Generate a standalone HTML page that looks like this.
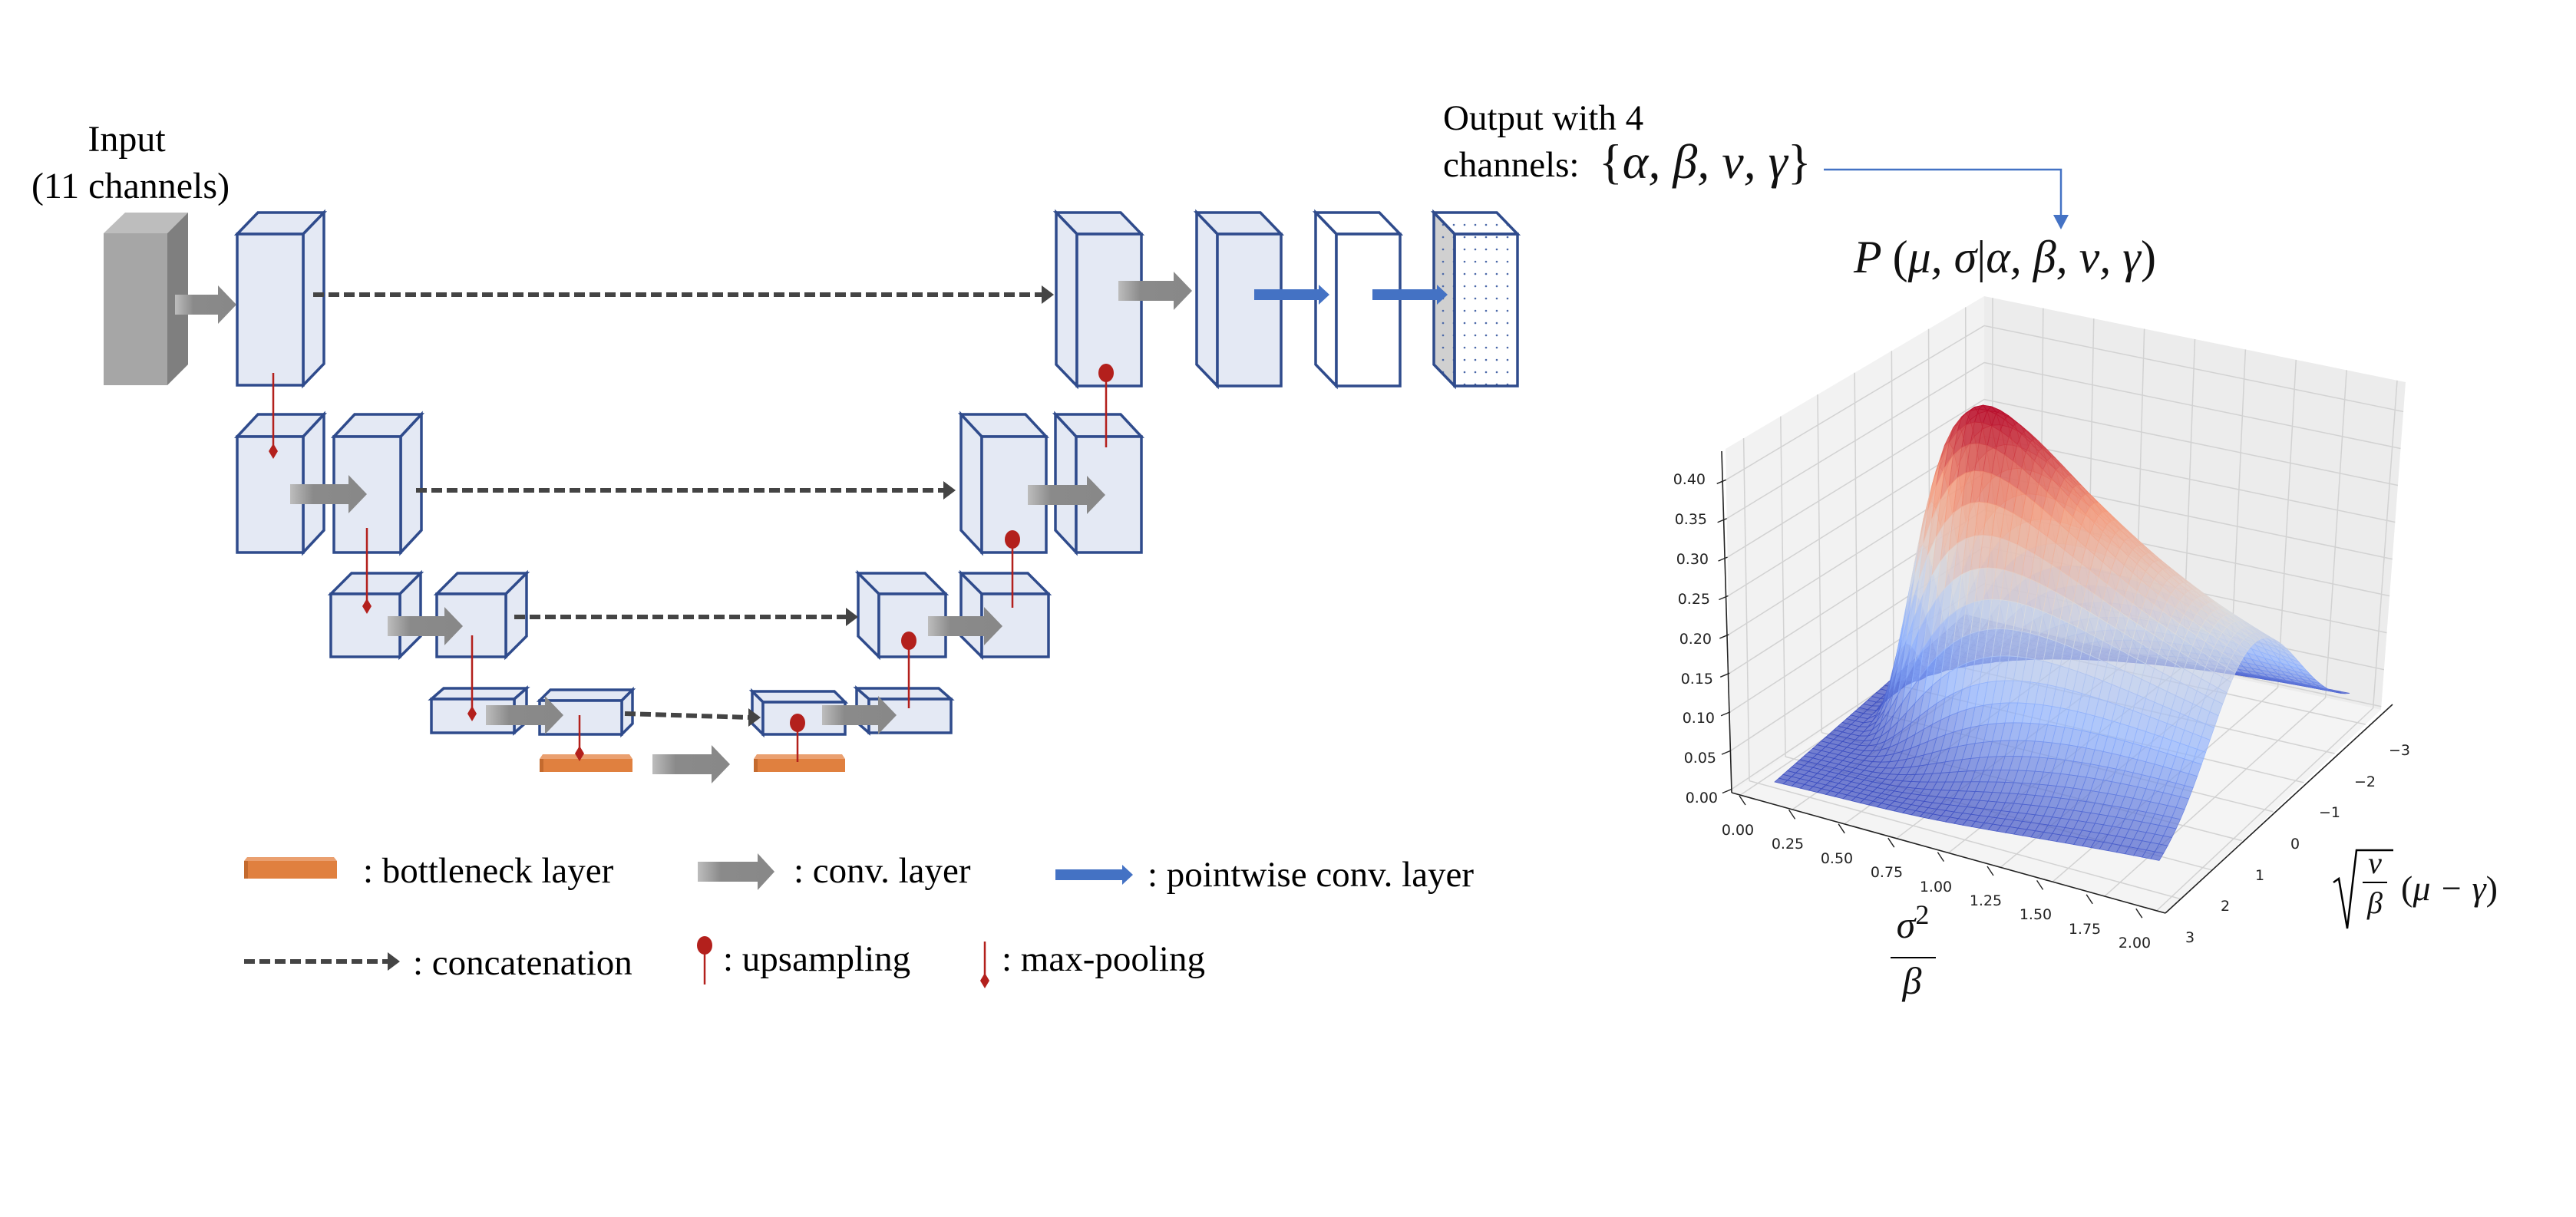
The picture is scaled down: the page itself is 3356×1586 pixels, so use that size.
<!DOCTYPE html>
<html><head><meta charset="utf-8"><style>
html,body{margin:0;padding:0;background:#fff;}
svg{display:block;}
.t{font-family:"Liberation Serif",serif;fill:#000;}
.m{font-family:"Liberation Serif",serif;font-style:italic;fill:#111;}
.tk{font-family:"DejaVu Sans","Liberation Sans",sans-serif;font-size:19px;fill:#222;}
</style></head><body>
<svg id="root" width="3356" height="1586" viewBox="0 0 3356 1586" xmlns="http://www.w3.org/2000/svg">
<defs>
<linearGradient id="ga" x1="0" x2="1" y1="0" y2="0"><stop offset="0" stop-color="#bdbdbd"/><stop offset="0.3" stop-color="#8a8a8a"/><stop offset="1" stop-color="#888"/></linearGradient>
<pattern id="dots" width="14" height="16" patternUnits="userSpaceOnUse"><circle cx="4" cy="5" r="1.3" fill="#4a67a8"/></pattern>
<pattern id="dots2" width="14" height="16" patternUnits="userSpaceOnUse"><rect width="14" height="16" fill="#d0d0d0"/><circle cx="4" cy="5" r="1.3" fill="#4a67a8"/></pattern>
</defs>
<rect width="3356" height="1586" fill="#fff"/>

<!-- Input -->
<text class="t" x="165" y="197" font-size="48" text-anchor="middle">Input</text>
<text class="t" x="170" y="258" font-size="48" text-anchor="middle">(11 channels)</text>
<polygon points="135,304 163,277 245,277 218,304" fill="#bdbdbd"/>
<polygon points="218,304 245,277 245,475 218,502" fill="#7f7f7f"/>
<rect x="135" y="304" width="83" height="198" fill="#a6a6a6"/>

<g id="boxes" stroke="#2f4b8c" stroke-width="3.5" stroke-linejoin="miter" fill="#e4e9f4"></g>
<g id="arrows"></g>

<!-- Output text -->
<text class="t" x="1880" y="169" font-size="47">Output with 4</text>
<text class="t" x="1880" y="230" font-size="47">channels:</text>
<text class="m" x="2083" y="232" font-size="64"><tspan font-style="normal">{</tspan>α, β, ν, γ<tspan font-style="normal">}</tspan></text>
<polyline points="2376,221 2685,221 2685,282" fill="none" stroke="#4472c4" stroke-width="2.5"/>
<polygon points="2675,280 2695,280 2685,299" fill="#4472c4"/>
<text class="m" x="2415" y="355" font-size="60">P <tspan font-style="normal">(</tspan>μ, σ<tspan font-style="normal">|</tspan>α, β, ν, γ<tspan font-style="normal">)</tspan></text>

<!-- Plot -->
<g id="walls"></g>
<g id="surf"></g>
<g id="axes" stroke="#222" stroke-width="1.5" fill="none"></g>
<g id="labels">
<text class="tk" x="2222" y="631" text-anchor="end">0.40</text>
<text class="tk" x="2224" y="683" text-anchor="end">0.35</text>
<text class="tk" x="2226" y="735" text-anchor="end">0.30</text>
<text class="tk" x="2228" y="787" text-anchor="end">0.25</text>
<text class="tk" x="2230" y="839" text-anchor="end">0.20</text>
<text class="tk" x="2232" y="891" text-anchor="end">0.15</text>
<text class="tk" x="2234" y="942" text-anchor="end">0.10</text>
<text class="tk" x="2236" y="994" text-anchor="end">0.05</text>
<text class="tk" x="2238" y="1046" text-anchor="end">0.00</text>
<text class="tk" x="2264" y="1088" text-anchor="middle">0.00</text>
<text class="tk" x="2329" y="1106" text-anchor="middle">0.25</text>
<text class="tk" x="2393" y="1125" text-anchor="middle">0.50</text>
<text class="tk" x="2458" y="1143" text-anchor="middle">0.75</text>
<text class="tk" x="2522" y="1162" text-anchor="middle">1.00</text>
<text class="tk" x="2587" y="1180" text-anchor="middle">1.25</text>
<text class="tk" x="2652" y="1198" text-anchor="middle">1.50</text>
<text class="tk" x="2716" y="1217" text-anchor="middle">1.75</text>
<text class="tk" x="2781" y="1235" text-anchor="middle">2.00</text>
<text class="tk" x="3126" y="984" text-anchor="middle">−3</text>
<text class="tk" x="3081" y="1025" text-anchor="middle">−2</text>
<text class="tk" x="3035" y="1065" text-anchor="middle">−1</text>
<text class="tk" x="2990" y="1106" text-anchor="middle">0</text>
<text class="tk" x="2944" y="1147" text-anchor="middle">1</text>
<text class="tk" x="2899" y="1187" text-anchor="middle">2</text>
<text class="tk" x="2853" y="1228" text-anchor="middle">3</text>
</g>
<text class="m" x="2492" y="1222" font-size="50" text-anchor="middle">σ<tspan font-style="normal" font-size="36" dy="-18">2</tspan></text>
<line x1="2463" y1="1248" x2="2522" y2="1248" stroke="#000" stroke-width="2"/>
<text class="m" x="2491" y="1295" font-size="50" text-anchor="middle">β</text>
<polyline points="3040,1150 3047,1145 3058,1210 3070,1108 3118,1108" fill="none" stroke="#000" stroke-width="2.5"/>
<text class="m" x="3094" y="1138" font-size="40" text-anchor="middle">ν</text>
<line x1="3078" y1="1150" x2="3110" y2="1150" stroke="#000" stroke-width="2"/>
<text class="m" x="3094" y="1190" font-size="40" text-anchor="middle">β</text>
<text class="m" x="3128" y="1173" font-size="46"><tspan font-style="normal">(</tspan>μ − γ<tspan font-style="normal">)</tspan></text>

<!-- Legend -->
<polygon points="318,1122 322,1117 435,1117 439,1122" fill="#eaa070"/>
<rect x="318" y="1122" width="121" height="23" fill="#e0803f"/>
<rect x="318" y="1122" width="5" height="23" fill="#c46a2e"/>
<text class="t" x="473" y="1150" font-size="47">: bottleneck layer</text>
<text class="t" x="1034" y="1150" font-size="47">: conv. layer</text>
<text class="t" x="1495" y="1155" font-size="47">: pointwise conv. layer</text>
<text class="t" x="538" y="1270" font-size="47">: concatenation</text>
<text class="t" x="942" y="1265" font-size="47">: upsampling</text>
<text class="t" x="1305" y="1265" font-size="47">: max-pooling</text>
</svg>
<script>
var NS='http://www.w3.org/2000/svg';
function el(p,tag,a){var e=document.createElementNS(NS,tag);for(var k in a)e.setAttribute(k,a[k]);p.appendChild(e);return e;}
var B=document.getElementById('boxes'),A=document.getElementById('arrows');
function box(x1,x2,y1,y2,dx,dy,dir,fill,side){
  fill=fill||'#e4e9f4';
  if(dir>0){
    el(B,'polygon',{points:[x1,y1,x1+dx,y1-dy,x2+dx,y1-dy,x2,y1].join(','),fill:fill});
    el(B,'polygon',{points:[x2,y1,x2+dx,y1-dy,x2+dx,y2-dy,x2,y2].join(','),fill:side||fill});
  } else {
    el(B,'polygon',{points:[x1,y1,x1-dx,y1-dy,x2-dx,y1-dy,x2,y1].join(','),fill:fill});
    el(B,'polygon',{points:[x1,y1,x1-dx,y1-dy,x1-dx,y2-dy,x1,y2].join(','),fill:side||fill});
  }
  el(B,'rect',{x:x1,y:y1,width:x2-x1,height:y2-y1,fill:fill});
}
box(309,395,305,502,27,28,1);
box(1403,1487,305,503,27,28,-1);
box(1586,1669,305,503,27,28,-1);
box(1741,1824,305,503,27,28,-1,'#ffffff');
box(1895,1977,305,503,27,28,-1,'url(#dots)','url(#dots2)');
box(309,395,569,720,27,29,1);box(435,522,569,720,27,29,1);
box(1279,1363,569,720,27,29,-1);box(1402,1487,569,720,27,29,-1);
box(431,521,774,856,27,27,1);box(569,659,774,856,27,27,1);
box(1145,1232,774,856,27,27,-1);box(1279,1366,774,856,27,27,-1);
box(562,670,911,955,16,14,1);box(703,810,913,957,14,14,1);
box(994,1101,915,957,14,14,-1);box(1132,1239,911,955,16,14,-1);
function bott(x1,x2,y1,y2){el(A,'polygon',{points:[x1,y1,x1+4,y1-6,x2-4,y1-6,x2,y1].join(','),fill:'#eaa070'});el(A,'rect',{x:x1,y:y1,width:x2-x1,height:y2-y1,fill:'#e0803f'});el(A,'rect',{x:x1,y:y1,width:5,height:y2-y1,fill:'#c46a2e'});}
bott(703,824,989,1006);bott(982,1101,989,1006);
function garrow(x1,x2,cy,sh,hh,hl){
  el(A,'polygon',{points:[x1,cy-sh/2,x2-hl,cy-sh/2,x2-hl,cy-hh/2,x2,cy,x2-hl,cy+hh/2,x2-hl,cy+sh/2,x1,cy+sh/2].join(','),fill:'url(#ga)'});
}
garrow(228,308,397,26,50,24);
garrow(1457,1553,379,26,50,24);
garrow(378,478,644,26,50,24);
garrow(1339,1440,645,26,50,24);
garrow(505,603,816,26,50,24);
garrow(1209,1306,816,26,50,24);
garrow(633,734,932,26,50,24);
garrow(1071,1168,932,26,50,24);
garrow(850,951,996,26,50,24);
garrow(909,1009,1136,26,48,22);
function barrow(x1,x2,cy){el(A,'polygon',{points:[x1,cy-7,x2-14,cy-7,x2-14,cy-13,x2,cy,x2-14,cy+13,x2-14,cy+7,x1,cy+7].join(','),fill:'#4472c4'});}
barrow(1634,1732,384);barrow(1788,1886,384);barrow(1375,1476,1140);
function dash(x1,y1,x2,y2){el(A,'line',{x1:x1,y1:y1,x2:x2-14,y2:y2,stroke:'#444','stroke-width':6,'stroke-dasharray':'14 6'});
  el(A,'polygon',{points:[x2-16,y2-12,x2,y2,x2-16,y2+12].join(','),fill:'#444'});}
dash(408,384,1373,384);dash(542,639,1245,639);dash(670,804,1118,804);dash(814,930,991,935);dash(318,1253,521,1253);
var R='#b3201c';
function pool(x,y1,y2){el(A,'line',{x1:x,y1:y1,x2:x,y2:y2,stroke:R,'stroke-width':2.5});el(A,'polygon',{points:[x,y2-10,x+6,y2,x,y2+10,x-6,y2].join(','),fill:R});}
function up(x,y1,y2){el(A,'line',{x1:x,y1:y1,x2:x,y2:y2,stroke:R,'stroke-width':2.5});el(A,'ellipse',{cx:x,cy:y1,rx:10,ry:12,fill:R});}
pool(356,486,588);pool(478,688,790);pool(615,828,930);pool(755,932,982);pool(1283,1227,1278);
up(1441,486,583);up(1319,703,792);up(1184,835,923);up(1039,942,993);up(918,1232,1283);

var W=document.getElementById('walls');
var PA=[2248,585],PB=[2256,1033],PC=[2585,813],PD=[2585,386],PE=[3134,498],PF=[3102,925],PG=[2821,1190];
function lp(a,b,t){return [a[0]+(b[0]-a[0])*t,a[1]+(b[1]-a[1])*t];}
function poly(p,pts,f){el(p,'polygon',{points:pts.map(function(q){return q.join(',')}).join(' '),fill:f});}
poly(W,[PA,PB,PC,PD],'#f2f2f2');poly(W,[PD,PE,PF,PC],'#ececec');poly(W,[PB,PC,PF,PG],'#f4f4f4');
function ln(p,a,b,c,w){el(p,'line',{x1:a[0],y1:a[1],x2:b[0],y2:b[1],stroke:c||'#d2d2d2','stroke-width':w||1.5});}
var i,s,f;
for(i=0;i<7;i++){s=0.07+i*0.143;ln(W,lp(PA,PD,s),lp(PB,PC,s));ln(W,lp(PB,PC,s),lp(PG,PF,s));}
for(i=0;i<9;i++){s=0.02+i*0.12;ln(W,lp(PD,PE,s),lp(PC,PF,s));ln(W,lp(PC,PF,s),lp(PB,PG,s));}
for(i=0;i<9;i++){f=0.01+i*0.1125;var l1=lp(PB,PA,f),l2=lp(PC,PD,f),l3=lp(PF,PE,f);ln(W,l1,l2);ln(W,l2,l3);}
var AX=document.getElementById('axes');
ln(AX,[2243,588],[2256,1033],'#222',1.6);ln(AX,[2256,1033],PG,'#222',1.6);ln(AX,PG,[3117,918],'#222',1.6);
for(i=0;i<9;i++){f=0.01+i*0.1125;var q=lp(PB,PA,f);ln(AX,q,[q[0]-12,q[1]+5],'#222',1.4);}
for(i=0;i<9;i++){var q2=[2270+i*64.6,1045+i*18.4];ln(AX,[q2[0]-4,q2[1]-8],[q2[0]+4,q2[1]+4],'#222',1.4);}
var S=document.getElementById('surf');
function hf(x,y){return Math.pow(x,-1.6)*Math.exp(-(1+y*y/2)/x);}
function P(u,v,z){return [2312+u*501+v*248,1019+u*123-v*218-z*975];}
var cm=[[0,59,76,192],[0.25,141,176,254],[0.5,221,221,221],[0.75,244,154,123],[1,180,4,38]];
function col(t){t=Math.max(0,Math.min(1,t));for(var k=0;k<4;k++){if(t<=cm[k+1][0]){var a=cm[k],b=cm[k+1],r=(t-a[0])/(b[0]-a[0]);return 'rgb('+Math.round(a[1]+(b[1]-a[1])*r)+','+Math.round(a[2]+(b[2]-a[2])*r)+','+Math.round(a[3]+(b[3]-a[3])*r)+')';}}}
var N=45,M=45,cells=[],Z=[];
for(i=0;i<=N;i++){Z[i]=[];for(var j=0;j<=M;j++){var u=i/N,v=j/M;Z[i][j]=hf(0.02+u*1.98,3-6*v);}}
for(i=0;i<N;i++)for(var j=0;j<M;j++)cells.push([i,j]);
cells.sort(function(a,b){return (a[0]/N-a[1]/M)-(b[0]/N-b[1]/M);});
cells.forEach(function(c){var i=c[0],j=c[1];
 var p1=P(i/N,j/M,Z[i][j]),p2=P((i+1)/N,j/M,Z[i+1][j]),p3=P((i+1)/N,(j+1)/M,Z[i+1][j+1]),p4=P(i/N,(j+1)/M,Z[i][j+1]);
 var z=(Z[i][j]+Z[i+1][j]+Z[i+1][j+1]+Z[i][j+1])/4;var cc=col(z/0.43);
 el(S,'polygon',{points:[p1,p2,p3,p4].map(function(q){return q.join(',')}).join(' '),fill:cc,'fill-opacity':0.7,stroke:cc,'stroke-opacity':0.85,'stroke-width':0.8});
});
</script>
</body></html>
